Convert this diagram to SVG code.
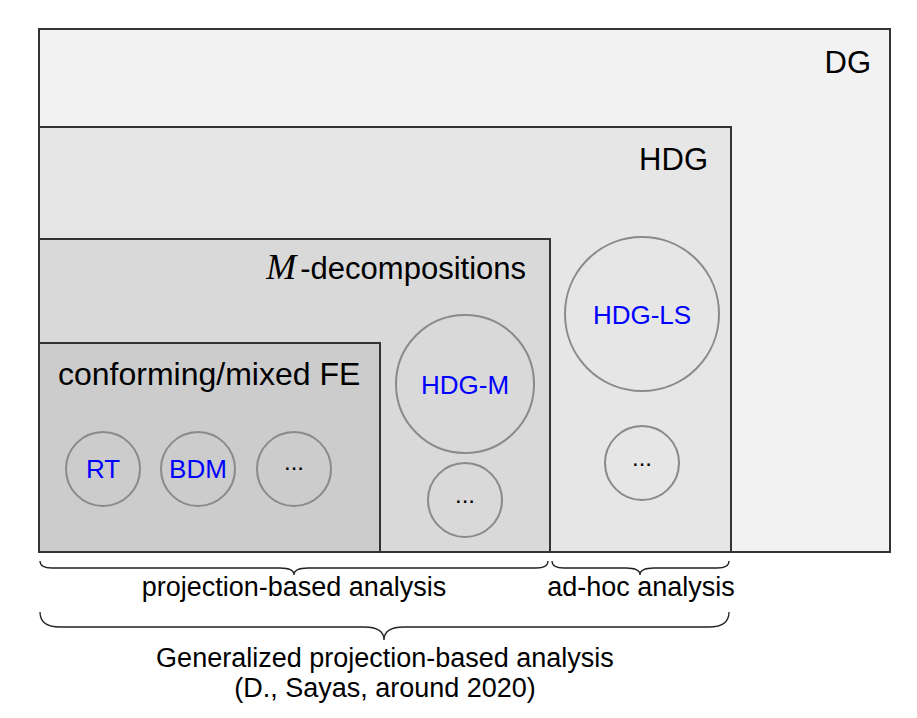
<svg xmlns="http://www.w3.org/2000/svg" width="917" height="718" viewBox="0 0 917 718">
<style>
.box{stroke:#333;stroke-width:2}
.c{fill:none;stroke:#8a8a8a;stroke-width:2}
.t{font-family:"Liberation Sans",Arial,sans-serif;fill:#000}
.big{font-size:31px}
.lab{font-size:26px;fill:#0000ff;text-anchor:middle}
.dots{font-size:24px;text-anchor:middle}
.br{fill:none;stroke:#222;stroke-width:1.3}
.bt{font-size:27px;text-anchor:middle}
</style>
<rect width="917" height="718" fill="#fff"/>
<g id="dg">
<rect class="box" x="39" y="29" width="851" height="523" fill="#f2f2f2"/>
<text class="t big" x="871" y="73" text-anchor="end">DG</text>
</g>
<g id="hdg">
<rect class="box" x="39" y="127" width="692" height="425" fill="#e6e6e6"/>
<text class="t big" x="708" y="170" text-anchor="end">HDG</text>
</g>
<g id="mdecomp">
<rect class="box" x="39" y="239" width="511" height="313" fill="#d9d9d9"/>
<text class="t big" x="526" y="279" text-anchor="end"><tspan font-family="Liberation Serif,serif" font-style="italic" font-size="36">M</tspan><tspan dx="4">-decompositions</tspan></text>
</g>
<g id="conforming">
<rect class="box" x="39" y="343" width="341" height="209" fill="#cccccc"/>
<text class="t" font-size="32" x="58" y="385">conforming/mixed FE</text>
</g>
<g id="rt"><circle class="c" cx="103" cy="469" r="37"/><text class="t lab" x="103" y="478">RT</text></g>
<g id="bdm"><circle class="c" cx="198" cy="469" r="37"/><text class="t lab" x="198" y="478">BDM</text></g>
<g id="fe-more"><circle class="c" cx="294" cy="469" r="37"/><text class="t dots" x="294" y="470">...</text></g>
<g id="hdgm"><circle class="c" cx="465" cy="384" r="69"/><text class="t lab" x="465" y="394">HDG-M</text></g>
<g id="m-more"><circle class="c" cx="465" cy="500" r="37"/><text class="t dots" x="465" y="503">...</text></g>
<g id="hdgls"><circle class="c" cx="642" cy="314" r="77"/><text class="t lab" x="642" y="324">HDG-LS</text></g>
<g id="ls-more"><circle class="c" cx="642" cy="463" r="37"/><text class="t dots" x="642" y="466">...</text></g>
<g id="connectors">
<path class="br" d="M40,561 Q40,568 52,568 L280,568 Q294,568 294,575 Q294,568 308,568 L536,568 Q548,568 548,561"/>
<path class="br" d="M552,561 Q552,568 564,568 L626,568 Q640,568 640,575 Q640,568 654,568 L717,568 Q729,568 729,561"/>
<path class="br" d="M40,612 Q40,627 60,627 L364,627 Q384,627 384,640 Q384,627 404,627 L709,627 Q729,627 729,612"/>
</g>
<g id="labels">
<text class="t bt" x="294" y="596">projection-based analysis</text>
<text class="t bt" x="641" y="596">ad-hoc analysis</text>
<text class="t bt" x="385" y="667">Generalized projection-based analysis</text>
<text class="t bt" x="385" y="697">(D., Sayas, around 2020)</text>
</g>
</svg>
